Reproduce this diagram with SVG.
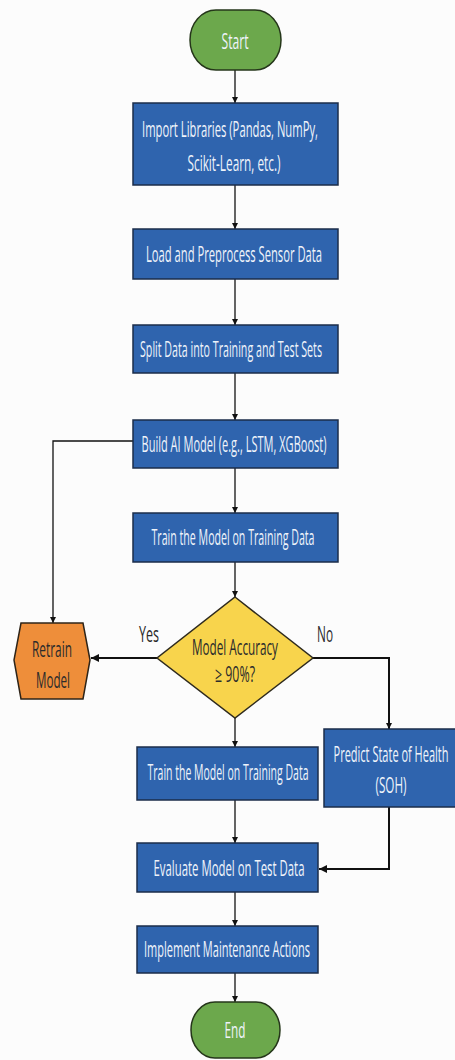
<svg xmlns="http://www.w3.org/2000/svg" width="455" height="1060" viewBox="0 0 455 1060">
<defs>
<marker id="ah" viewBox="0 0 10 10" refX="10" refY="5" markerWidth="6" markerHeight="6" markerUnits="userSpaceOnUse" orient="auto">
<path d="M0,0 L10,5 L0,10 z" fill="#111"/>
</marker>
<marker id="ah2" viewBox="0 0 10 10" refX="10" refY="5" markerWidth="8" markerHeight="8" markerUnits="userSpaceOnUse" orient="auto">
<path d="M0,0 L10,5 L0,10 z" fill="#111"/>
</marker>
<style>
.box{fill:#2F64AE;stroke:#1B2C4A;stroke-width:1.5}
.term{fill:#6CA84C;stroke:#25361A;stroke-width:1.5}
.t{font-family:"Open Sans","Liberation Sans",sans-serif;font-size:21px;fill:#EEF3FA;text-anchor:middle}
.d{font-family:"Open Sans","Liberation Sans",sans-serif;font-size:21px;fill:#2B2B2B;text-anchor:middle}
.c{fill:none;stroke:#111;stroke-width:1.3}
.c2{fill:none;stroke:#111;stroke-width:2}
</style>
</defs>
<rect width="455" height="1060" fill="#FCFCFC"/>
<g id="connectors">
<line class="c" x1="235" y1="70" x2="235" y2="103" marker-end="url(#ah)"/>
<line class="c" x1="235" y1="185" x2="235" y2="229" marker-end="url(#ah)"/>
<line class="c" x1="235" y1="279" x2="235" y2="325" marker-end="url(#ah)"/>
<line class="c" x1="235" y1="373" x2="235" y2="420" marker-end="url(#ah)"/>
<line class="c" x1="235" y1="468" x2="235" y2="513" marker-end="url(#ah)"/>
<line class="c" x1="235" y1="562" x2="235" y2="597" marker-end="url(#ah)"/>
<polyline class="c" points="133,441 53,441 53,623" marker-end="url(#ah)"/>
<line class="c2" x1="157" y1="658" x2="91" y2="658" marker-end="url(#ah2)"/>
<polyline class="c2" points="313,658 389,658 389,729" marker-end="url(#ah)"/>
<line class="c" x1="235" y1="718" x2="235" y2="747" marker-end="url(#ah)"/>
<line class="c" x1="235" y1="800" x2="235" y2="843" marker-end="url(#ah)"/>
<polyline class="c2" points="389,807 389,869 319,869" marker-end="url(#ah2)"/>
<line class="c" x1="235" y1="892" x2="235" y2="926" marker-end="url(#ah)"/>
<line class="c" x1="235" y1="973" x2="235" y2="1002" marker-end="url(#ah)"/>
<text class="d" transform="translate(149,642) scale(0.5,1)" textLength="40" lengthAdjust="spacingAndGlyphs">Yes</text>
<text class="d" transform="translate(325,642) scale(0.5,1)" textLength="32" lengthAdjust="spacingAndGlyphs">No</text>
</g>
<g id="start">
<rect class="term" x="190" y="10" width="91" height="60" rx="26" ry="30"/>
<text class="t" transform="translate(235,49) scale(0.5,1)" textLength="54" lengthAdjust="spacingAndGlyphs">Start</text>
</g>
<g id="import">
<rect class="box" x="133" y="103" width="205" height="82"/>
<text class="t" transform="translate(230,137) scale(0.5,1)" textLength="352" lengthAdjust="spacingAndGlyphs">Import Libraries (Pandas, NumPy,</text>
<text class="t" transform="translate(234,171) scale(0.5,1)" textLength="186" lengthAdjust="spacingAndGlyphs">Scikit-Learn, etc.)</text>
</g>
<g id="load">
<rect class="box" x="133" y="229" width="205" height="50"/>
<text class="t" transform="translate(234,262) scale(0.5,1)" textLength="352" lengthAdjust="spacingAndGlyphs">Load and Preprocess Sensor Data</text>
</g>
<g id="split">
<rect class="box" x="133" y="325" width="205" height="48"/>
<text class="t" transform="translate(231,357) scale(0.5,1)" textLength="364" lengthAdjust="spacingAndGlyphs">Split Data into Training and Test Sets</text>
</g>
<g id="build">
<rect class="box" x="133" y="420" width="205" height="48"/>
<text class="t" transform="translate(234,452) scale(0.5,1)" textLength="370" lengthAdjust="spacingAndGlyphs">Build AI Model (e.g., LSTM, XGBoost)</text>
</g>
<g id="train">
<rect class="box" x="133" y="513" width="205" height="49"/>
<text class="t" transform="translate(233,545) scale(0.5,1)" textLength="326" lengthAdjust="spacingAndGlyphs">Train the Model on Training Data</text>
</g>
<g id="decision">
<polygon points="235,597 313,658 235,718 157,658" fill="#F8D44C" stroke="#2E2A1E" stroke-width="1.5"/>
<text class="d" transform="translate(235,655) scale(0.5,1)" textLength="172" lengthAdjust="spacingAndGlyphs">Model Accuracy</text>
<text class="d" transform="translate(235,682) scale(0.5,1)" textLength="80" lengthAdjust="spacingAndGlyphs">≥ 90%?</text>
</g>
<g id="retrain">
<polygon points="21,623 83,623 90,660 83,699 21,699 14,660" fill="#EE8E3A" stroke="#2E2418" stroke-width="1.5"/>
<text class="d" transform="translate(52,657) scale(0.5,1)" textLength="80" lengthAdjust="spacingAndGlyphs">Retrain</text>
<text class="d" transform="translate(53,688) scale(0.5,1)" textLength="68" lengthAdjust="spacingAndGlyphs">Model</text>
</g>
<g id="train2">
<rect class="box" x="137" y="747" width="181" height="53"/>
<text class="t" transform="translate(228,780) scale(0.5,1)" textLength="322" lengthAdjust="spacingAndGlyphs">Train the Model on Training Data</text>
</g>
<g id="predict">
<rect class="box" x="324" y="729" width="133" height="78"/>
<text class="t" transform="translate(391,762) scale(0.5,1)" textLength="230" lengthAdjust="spacingAndGlyphs">Predict State of Health</text>
<text class="t" transform="translate(391,793) scale(0.5,1)" textLength="62" lengthAdjust="spacingAndGlyphs">(SOH)</text>
</g>
<g id="evaluate">
<rect class="box" x="137" y="843" width="181" height="49"/>
<text class="t" transform="translate(229,876) scale(0.5,1)" textLength="302" lengthAdjust="spacingAndGlyphs">Evaluate Model on Test Data</text>
</g>
<g id="implement">
<rect class="box" x="137" y="926" width="181" height="47"/>
<text class="t" transform="translate(227,957) scale(0.5,1)" textLength="332" lengthAdjust="spacingAndGlyphs">Implement Maintenance Actions</text>
</g>
<g id="end">
<rect class="term" x="191" y="1002" width="89" height="56" rx="24" ry="28"/>
<text class="t" transform="translate(235,1038) scale(0.5,1)" textLength="42" lengthAdjust="spacingAndGlyphs">End</text>
</g>
</svg>
